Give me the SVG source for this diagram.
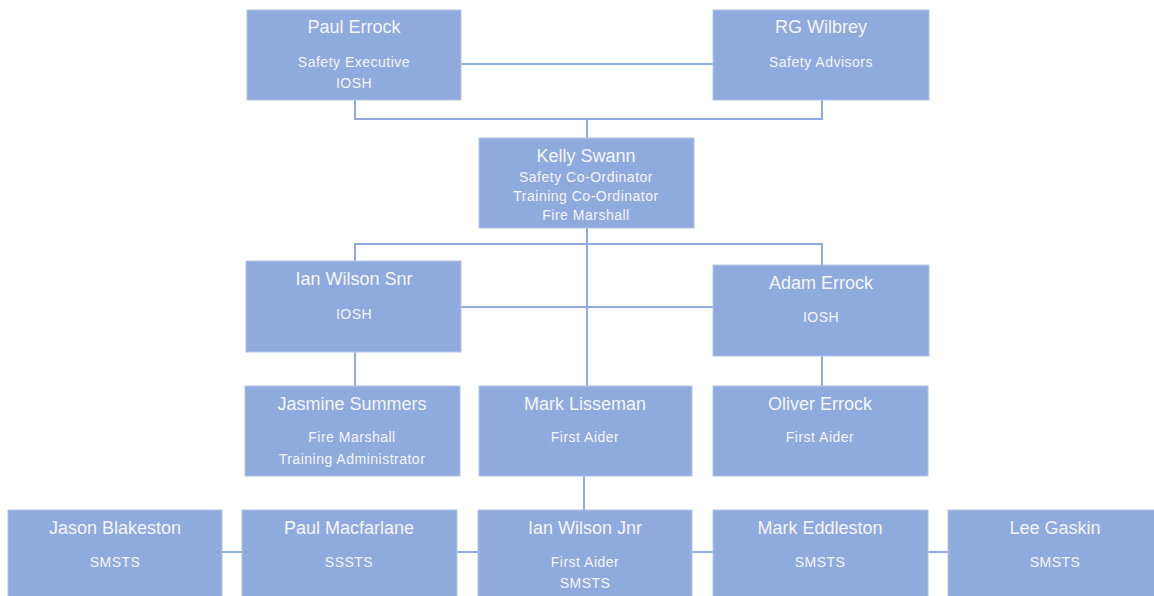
<svg xmlns="http://www.w3.org/2000/svg" width="1154" height="596" viewBox="0 0 1154 596">
<style>
.box{fill:#8faadc;stroke:#b4c6e8;stroke-width:1}
.n{font-family:"Liberation Sans",Arial,sans-serif;font-size:18px;fill:#f4f6fb;text-anchor:middle}
.s{font-family:"Liberation Sans",Arial,sans-serif;font-size:14px;letter-spacing:0.5px;fill:#f4f6fb;text-anchor:middle}
.c{fill:none;stroke:#8faadc;stroke-width:2}
</style>
<rect width="1154" height="596" fill="#ffffff"/>
<g id="connectors">
<line class="c" x1="461" y1="64" x2="713" y2="64"/>
<polyline class="c" points="355,100 355,119 822,119 822,100"/>
<line class="c" x1="587" y1="119" x2="587" y2="138"/>
<line class="c" x1="587" y1="228" x2="587" y2="386"/>
<polyline class="c" points="355,261 355,244 822,244 822,265"/>
<line class="c" x1="461" y1="307" x2="713" y2="307"/>
<line class="c" x1="355" y1="352" x2="355" y2="386"/>
<line class="c" x1="822" y1="356" x2="822" y2="386"/>
<line class="c" x1="584" y1="476" x2="584" y2="510"/>
<line class="c" x1="222" y1="552" x2="242" y2="552"/>
<line class="c" x1="457" y1="552" x2="478" y2="552"/>
<line class="c" x1="692" y1="552" x2="713" y2="552"/>
<line class="c" x1="928" y1="552" x2="948" y2="552"/>
</g>
<g id="paul-errock"><rect class="box" x="247" y="10" width="214" height="90"/><text class="n" x="354" y="33">Paul Errock</text><text class="s" x="354" y="67">Safety Executive</text><text class="s" x="354" y="88">IOSH</text></g>
<g id="rg-wilbrey"><rect class="box" x="713" y="10" width="216" height="90"/><text class="n" x="821" y="33">RG Wilbrey</text><text class="s" x="821" y="67">Safety Advisors</text></g>
<g id="kelly-swann"><rect class="box" x="479" y="138" width="215" height="90"/><text class="n" x="586" y="162">Kelly Swann</text><text class="s" x="586" y="182">Safety Co-Ordinator</text><text class="s" x="586" y="201">Training Co-Ordinator</text><text class="s" x="586" y="220">Fire Marshall</text></g>
<g id="ian-wilson-snr"><rect class="box" x="246" y="261" width="215" height="91"/><text class="n" x="354" y="285">Ian Wilson Snr</text><text class="s" x="354" y="319">IOSH</text></g>
<g id="adam-errock"><rect class="box" x="713" y="265" width="216" height="91"/><text class="n" x="821" y="289">Adam Errock</text><text class="s" x="821" y="322">IOSH</text></g>
<g id="jasmine-summers"><rect class="box" x="245" y="386" width="215" height="90"/><text class="n" x="352" y="410">Jasmine Summers</text><text class="s" x="352" y="442">Fire Marshall</text><text class="s" x="352" y="464">Training Administrator</text></g>
<g id="mark-lisseman"><rect class="box" x="479" y="386" width="213" height="90"/><text class="n" x="585" y="410">Mark Lisseman</text><text class="s" x="585" y="442">First Aider</text></g>
<g id="oliver-errock"><rect class="box" x="713" y="386" width="215" height="90"/><text class="n" x="820" y="410">Oliver Errock</text><text class="s" x="820" y="442">First Aider</text></g>
<g id="jason-blakeston"><rect class="box" x="8" y="510" width="214" height="90"/><text class="n" x="115" y="534">Jason Blakeston</text><text class="s" x="115" y="567">SMSTS</text></g>
<g id="paul-macfarlane"><rect class="box" x="242" y="510" width="215" height="90"/><text class="n" x="349" y="534">Paul Macfarlane</text><text class="s" x="349" y="567">SSSTS</text></g>
<g id="ian-wilson-jnr"><rect class="box" x="478" y="510" width="214" height="90"/><text class="n" x="585" y="534">Ian Wilson Jnr</text><text class="s" x="585" y="567">First Aider</text><text class="s" x="585" y="588">SMSTS</text></g>
<g id="mark-eddleston"><rect class="box" x="713" y="510" width="215" height="90"/><text class="n" x="820" y="534">Mark Eddleston</text><text class="s" x="820" y="567">SMSTS</text></g>
<g id="lee-gaskin"><rect class="box" x="948" y="510" width="215" height="90"/><text class="n" x="1055" y="534">Lee Gaskin</text><text class="s" x="1055" y="567">SMSTS</text></g>
</svg>
